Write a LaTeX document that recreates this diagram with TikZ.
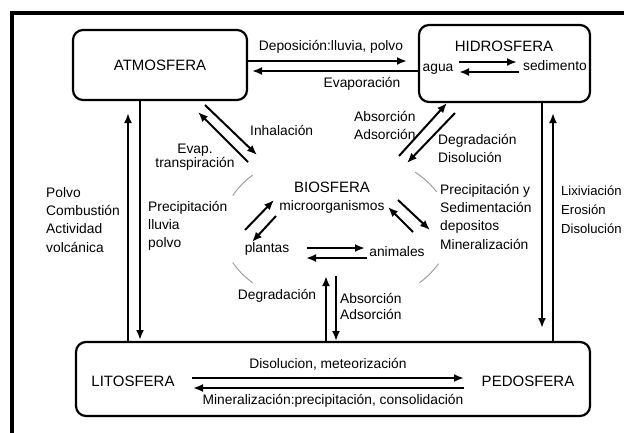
\documentclass[tikz,border=0pt]{standalone}
\usepackage{fontspec}
\setmainfont{Liberation Sans}
\usetikzlibrary{arrows.meta}
\begin{document}
\begin{tikzpicture}[x=1pt,y=-1pt,
  box/.style={draw, line width=2.2pt, rounded corners=10pt, inner sep=0pt},
  big/.style={font=\fontsize{15}{18}\selectfont, inner sep=0pt},
  lbl/.style={font=\fontsize{13.8}{18.3}\selectfont, inner sep=0pt, align=left},
  arr/.style={line width=2pt, -{Latex[length=10pt,width=8pt]}},
  bioarc/.style={draw=gray!80, line width=0.9pt}]
\clip (0,0) rectangle (624,432);
\fill[white] (0,0) rectangle (624,432);
\draw[line width=3.5pt] (12,450) -- (12,13) -- (640,13);

% boxes
\node[box, big, minimum width=174pt, minimum height=70pt] (atm) at (160,65) {ATMOSFERA};
\node[box, minimum width=171pt, minimum height=77pt] (hid) at (504.5,63.5) {};
\node[big] (hidt) at (504,46) {HIDROSFERA};
\node[lbl] (agua) at (438,69.5) {agua};
\node[lbl] (sed) at (555,66) {sedimento};
\node[box, minimum width=514pt, minimum height=74pt] (suelo) at (333,379) {};
\node[big] (lito) at (133,381) {LITOSFERA};
\node[big] (pedo) at (528,381) {PEDOSFERA};

% biosfera
\coordinate (bc) at (336,229);
\draw[bioarc] (bc) ++(205:114 and 79) arc[start angle=205, end angle=223, x radius=114, y radius=79];
\draw[bioarc] (bc) ++(137:114 and 79) arc[start angle=137, end angle=155, x radius=114, y radius=79];
\draw[bioarc] (bc) ++(-46:114 and 79) arc[start angle=-46, end angle=-28, x radius=114, y radius=79];
\draw[bioarc] (bc) ++(26:114 and 79) arc[start angle=26, end angle=43, x radius=114, y radius=79];
\node[big] (bio) at (332,187) {BIOSFERA};
\node[lbl] (micro) at (332,207) {microorganismos};
\node[lbl] (plan) at (267,249) {plantas};
\node[lbl] (anim) at (397,252) {animales};

% top arrows
\coordinate (d1) at (407,61);
\draw[arr] (atm.east |- d1) -- (d1);
\coordinate (e1) at (252,71);
\draw[arr] (hid.west |- e1) -- (e1);
\coordinate (w1) at (459,62); \coordinate (w2) at (517,62);
\draw[arr] (w1) -- (w2);
\coordinate (w3) at (519,72); \coordinate (w4) at (459,72);
\draw[arr] (w3) -- (w4);

% vertical left
\coordinate (u1) at (128,113);
\draw[arr] (suelo.north -| u1) -- (u1);
\coordinate (p1) at (140,340);
\draw[arr] (atm.south -| p1) -- (p1);
% vertical right
\coordinate (l1) at (542,328);
\draw[arr] (hid.south -| l1) -- (l1);
\coordinate (l2) at (553,113);
\draw[arr] (suelo.north -| l2) -- (l2);
% bio - lito
\coordinate (v1) at (326,276);
\draw[arr] (suelo.north -| v1) -- (v1);
\coordinate (v2) at (336,276); \coordinate (v3) at (336,341);
\draw[arr] (v2) -- (v3);
% bottom
\coordinate (m1) at (192,378); \coordinate (m2) at (464,378);
\draw[arr] (m1) -- (m2);
\coordinate (m3) at (464,388); \coordinate (m4) at (193,388);
\draw[arr] (m3) -- (m4);

% diagonals atm - bio
\coordinate (a1) at (248,162); \coordinate (a2) at (198,112);
\draw[arr] (a1) -- (a2);
\coordinate (a3) at (205,105); \coordinate (a4) at (257,155);
\draw[arr] (a3) -- (a4);
% diagonals hid - bio
\coordinate (h1) at (399,156); \coordinate (h2) at (447,103);
\draw[arr] (h1) -- (h2);
\coordinate (h3) at (455,113); \coordinate (h4) at (407,163);
\draw[arr] (h3) -- (h4);
% inner bio
\coordinate (b1) at (245,230); \coordinate (b2) at (274,200);
\draw[arr] (b1) -- (b2);
\coordinate (b3) at (276,216); \coordinate (b4) at (252,242);
\draw[arr] (b3) -- (b4);
\coordinate (b5) at (413,232); \coordinate (b6) at (388,207);
\draw[arr] (b5) -- (b6);
\coordinate (b7) at (398,200); \coordinate (b8) at (430,230);
\draw[arr] (b7) -- (b8);
\coordinate (b9) at (307,248); \coordinate (b10) at (365,248);
\draw[arr] (b9) -- (b10);
\coordinate (b11) at (367,258); \coordinate (b12) at (306,258);
\draw[arr] (b11) -- (b12);

% labels
\node[lbl] (dep) at (331,47) {Deposición:lluvia, polvo};
\node[lbl] (evapo) at (362,84) {Evaporación};
\node[lbl, anchor=north west] (polvo) at (46,187) {Polvo\\Combustión\\Actividad\\volcánica};
\node[lbl, anchor=north west] (prec) at (148,201) {Precipitación\\lluvia\\polvo};
\node[lbl, align=center, font=\fontsize{13.8}{11.5}\selectfont, anchor=north] (evt) at (195,144) {Evap.\\transpiración};
\node[lbl, anchor=west] (inh) at (250,130) {Inhalación};
\node[lbl, anchor=north west] (abs1) at (354,111) {Absorción\\Adsorción};
\node[lbl, anchor=north west] (degd) at (438,134) {Degradación\\Disolución};
\node[lbl, anchor=north west] (precy) at (440,184) {Precipitación y\\Sedimentación\\depositos\\Mineralización};
\node[lbl, anchor=north west, font=\fontsize{13.1}{18.8}\selectfont] (lix) at (561,186) {Lixiviación\\Erosión\\Disolución};
\node[lbl] (degr) at (277,296) {Degradación};
\node[lbl, anchor=north west, font=\fontsize{13.8}{16.5}\selectfont] (abs2) at (340,293) {Absorción\\Adsorción};
\node[lbl] (diso) at (328,364) {Disolucion, meteorización};
\node[lbl] (mine) at (333,401) {Mineralización:precipitación, consolidación};
\end{tikzpicture}
\end{document}
